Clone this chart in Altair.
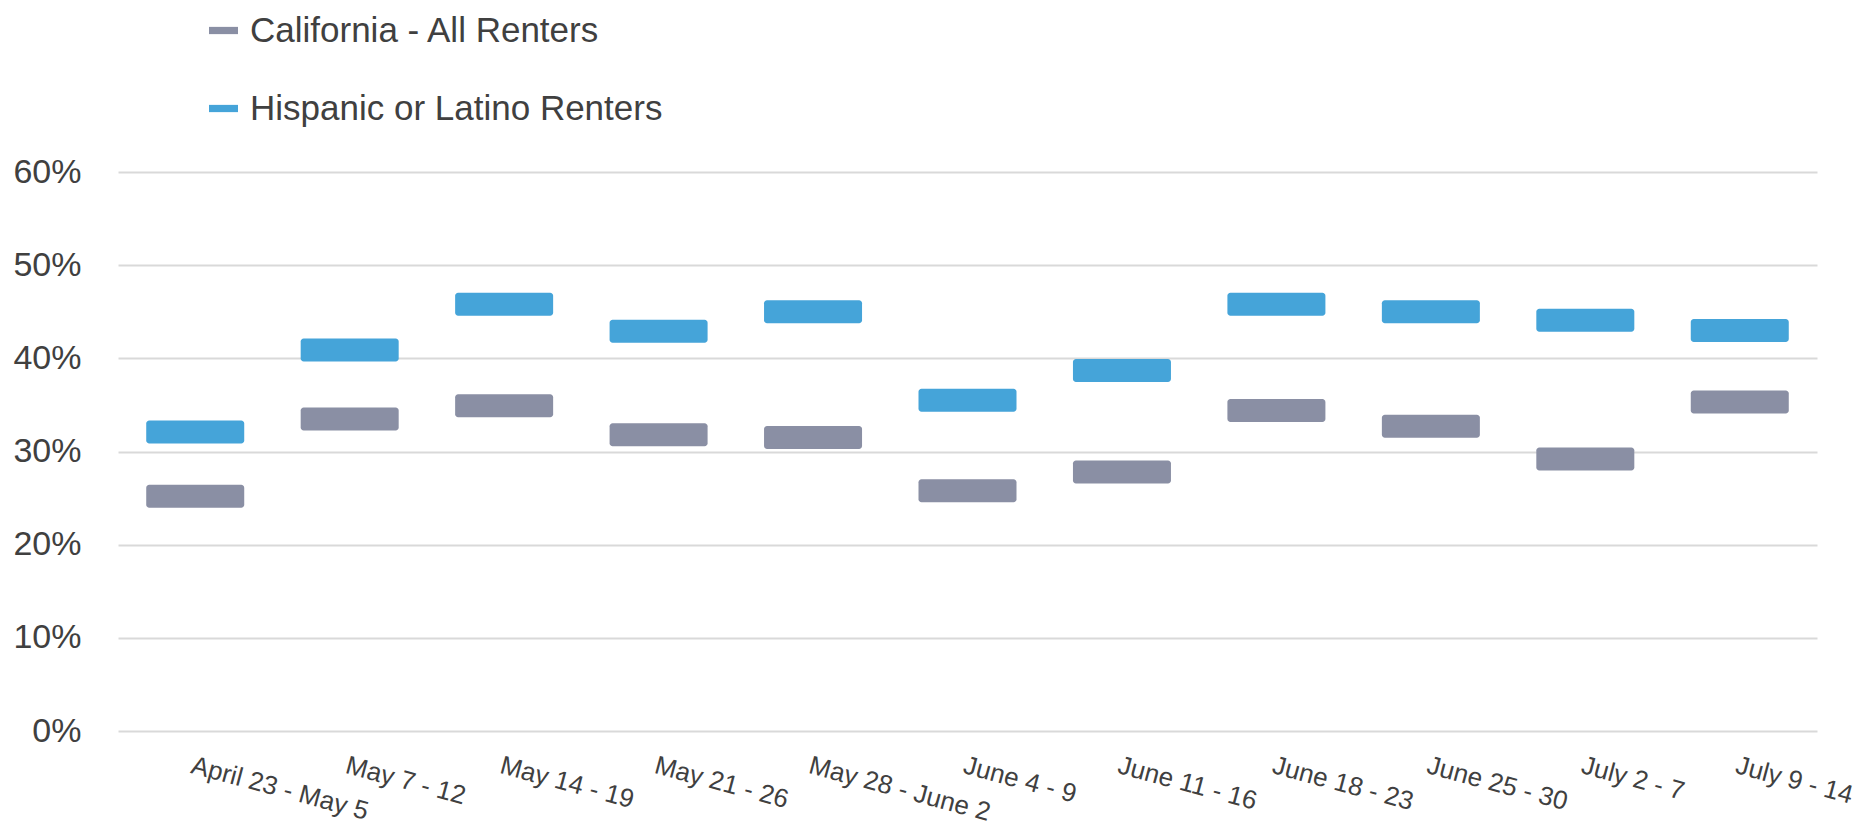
import altair as alt
import pandas as pd

weeks = [
    "April 23 - May 5", "May 7 - 12", "May 14 - 19", "May 21 - 26",
    "May 28 - June 2", "June 4 - 9", "June 11 - 16", "June 18 - 23",
    "June 25 - 30", "July 2 - 7", "July 9 - 14",
]
ca_all = [0.252, 0.335, 0.349, 0.318, 0.315, 0.258, 0.278, 0.344, 0.327, 0.292, 0.353]
hispanic = [0.321, 0.409, 0.458, 0.429, 0.450, 0.355, 0.387, 0.458, 0.450, 0.441, 0.430]

series_names = ["California - All Renters", "Hispanic or Latino Renters"]
series_colors = ["#8A8FA4", "#45A4D9"]

rows = []
for i, w in enumerate(weeks):
    rows.append({"week": w, "series": series_names[0], "value": ca_all[i]})
    rows.append({"week": w, "series": series_names[1], "value": hispanic[i]})
df = pd.DataFrame(rows)

FONT = "Liberation Sans"

chart = (
    alt.Chart(df)
    .mark_tick(size=98, thickness=23, cornerRadius=3, opacity=1)
    .encode(
        x=alt.X(
            "week:N",
            sort=weeks,
            title=None,
            scale=alt.Scale(paddingInner=0, paddingOuter=0),
            axis=alt.Axis(
                labelAngle=15,
                labelAlign="left",
                labelBaseline="top",
                labelFontSize=26,
                labelFont=FONT,
                labelColor="#404040",
                labelPadding=21,
                ticks=False,
                tickSize=0,
                domain=False,
                grid=False,
                labelOverlap=False,
                labelLimit=400,
            ),
        ),
        y=alt.Y(
            "value:Q",
            title=None,
            scale=alt.Scale(domain=[0, 0.6], nice=False),
            axis=alt.Axis(
                values=[0, 0.1, 0.2, 0.3, 0.4, 0.5, 0.6],
                format=".0%",
                labelFontSize=34,
                labelFont=FONT,
                labelColor="#404040",
                labelPadding=37,
                ticks=False,
                tickSize=0,
                domain=False,
                grid=True,
                gridColor="#D9D9D9",
                gridWidth=2,
            ),
        ),
        color=alt.Color(
            "series:N",
            scale=alt.Scale(domain=series_names, range=series_colors),
            legend=alt.Legend(
                title=None,
                orient="none",
                legendX=88,
                legendY=-159,
                direction="vertical",
                symbolType="M-1,-0.25H1V0.25H-1Z",
                symbolSize=841,
                symbolStrokeWidth=0,
                symbolOpacity=1,
                labelFontSize=35,
                labelFont=FONT,
                labelColor="#404040",
                labelOffset=9,
                rowPadding=42,
                labelLimit=800,
            ),
        ),
    )
    .properties(
        width=1699,
        height=559,
        background="white",
        autosize=alt.AutoSizeParams(type="none"),
        padding={"left": 110, "top": 164, "right": 41, "bottom": 96},
    )
    .configure_view(strokeWidth=0)
)

chart.save("out.html", embed_options={"renderer": "svg", "actions": False})
